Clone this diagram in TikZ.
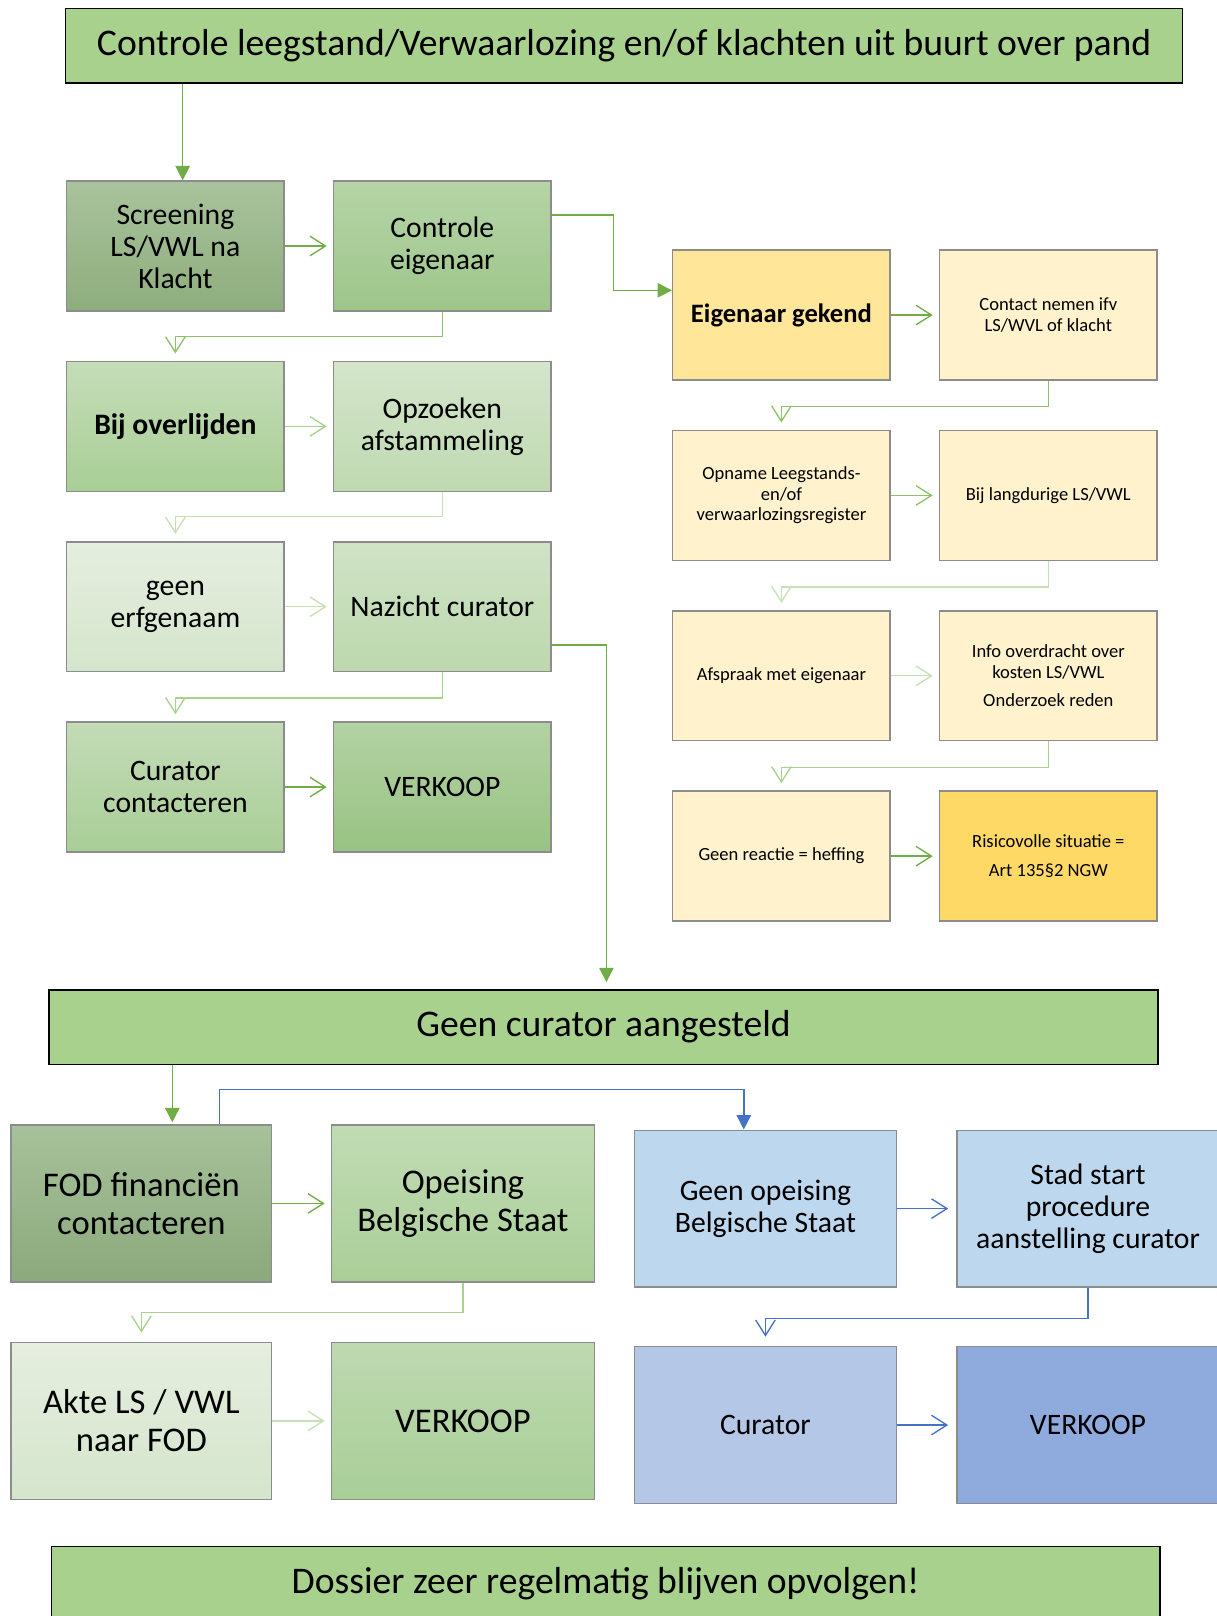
\documentclass[tikz,border=0pt]{standalone}
\usepackage{fontspec}
\setmainfont{Carlito}
\usetikzlibrary{arrows.meta}
\definecolor{hdr}{HTML}{A9D18E}
\definecolor{gA}{HTML}{70AD47}
\definecolor{gB}{HTML}{8CC26A}
\definecolor{gC}{HTML}{A9D18E}
\definecolor{gD}{HTML}{C5E0B4}
\definecolor{bl}{HTML}{4472C4}
\definecolor{brd}{HTML}{8C8C8C}
\definecolor{ylA}{HTML}{FFE699}
\definecolor{ylB}{HTML}{FFF2CC}
\definecolor{ylC}{HTML}{FFD966}
\definecolor{buA}{HTML}{BDD7EE}
\definecolor{buB}{HTML}{B4C7E7}
\definecolor{buC}{HTML}{8FAADC}
\definecolor{c1t}{HTML}{A9C39C}\definecolor{c1b}{HTML}{8EAD7D}
\definecolor{c2t}{HTML}{B6D4A7}\definecolor{c2b}{HTML}{9DC58A}
\definecolor{c3t}{HTML}{C5DDB8}\definecolor{c3b}{HTML}{A8CE95}
\definecolor{c4t}{HTML}{D4E5CB}\definecolor{c4b}{HTML}{BFD9B1}
\definecolor{c5t}{HTML}{E5EEDF}\definecolor{c5b}{HTML}{D5E5CC}
\definecolor{c6t}{HTML}{D0E3C6}\definecolor{c6b}{HTML}{BCD8AE}
\definecolor{c7t}{HTML}{C3DBB6}\definecolor{c7b}{HTML}{A9CE97}
\definecolor{c8t}{HTML}{B3D2A3}\definecolor{c8b}{HTML}{98C283}
\definecolor{c9t}{HTML}{A7C19A}\definecolor{c9b}{HTML}{8BA97C}
\definecolor{cat}{HTML}{C1DCB4}\definecolor{cab}{HTML}{AACE98}
\definecolor{cbt}{HTML}{BED9B1}\definecolor{cbb}{HTML}{A9CE97}
\begin{document}
\begin{tikzpicture}[x=1pt,y=-1pt,
  box/.style={draw=brd, line width=1.4pt, inner sep=2pt, align=center, text=black, anchor=north west},
  sbox/.style={box, minimum width=211pt, minimum height=126pt},
  lbox/.style={box, minimum width=253pt, minimum height=152pt},
  gbox/.style 2 args={top color=#1, bottom color=#2},
  hbox/.style={draw=black, line width=1.2pt, fill=hdr, anchor=north west, minimum height=72pt, font=\fontsize{36.5}{42}\selectfont},
  fL/.style={font=\fontsize{28.8}{31}\selectfont},
  fX/.style={font=\fontsize{33.6}{37}\selectfont},
  fS/.style={font=\fontsize{18}{20}\selectfont},
  fA/.style={line width=1.4pt, draw=#1, -{Triangle[length=14pt,width=14pt,fill=#1]}},
  oA/.style={line width=1.3pt, draw=#1, -{Straight Barb[length=15pt,width=19pt]}},
]
\useasboundingbox (0,0) rectangle (1180,1568);

% headers
\node[hbox, minimum width=1084pt] (top) at (63,8) {Controle leegstand/Verwaarlozing en/of klachten uit buurt over pand};
\node[hbox, minimum width=1076pt] (gc) at (47,960) {Geen curator aangesteld};
\node[hbox, minimum width=1076pt] (dos) at (49,1500) {Dossier zeer regelmatig blijven opvolgen!};

% left column
\node[sbox, fL, gbox={c1t}{c1b}] (scr) at (64,175) {Screening\\LS/VWL na\\Klacht};
\node[sbox, fL, gbox={c2t}{c2b}] (ce) at (323,175) {Controle\\eigenaar};
\node[sbox, fL, gbox={c3t}{c3b}] (bo) at (64,350) {\textbf{Bij overlijden}};
\node[sbox, fL, gbox={c4t}{c4b}] (opz) at (323,350) {Opzoeken\\afstammeling};
\node[sbox, fL, gbox={c5t}{c5b}] (ge) at (64,525) {geen\\erfgenaam};
\node[sbox, fL, gbox={c6t}{c6b}] (nc) at (323,525) {Nazicht curator};
\node[sbox, fL, gbox={c7t}{c7b}] (cc) at (64,700) {Curator\\contacteren};
\node[sbox, fL, gbox={c8t}{c8b}] (vk1) at (323,700) {VERKOOP};

% right column
\node[sbox, fill=ylA, font=\fontsize{25.8}{30}\selectfont] (eg) at (652,242) {\textbf{Eigenaar gekend}};
\node[sbox, fS, fill=ylB] (cn) at (911,242) {Contact nemen ifv\\LS/WVL of klacht};
\node[sbox, fS, fill=ylB] (opn) at (652,417) {Opname Leegstands-\\en/of\\verwaarlozingsregister};
\node[sbox, fS, fill=ylB] (bl) at (911,417) {Bij langdurige LS/VWL};
\node[sbox, fS, fill=ylB] (afs) at (652,592) {Afspraak met eigenaar};
\node[sbox, fS, fill=ylB] (inf) at (911,592) {Info overdracht over\\kosten LS/VWL\\[7pt]Onderzoek reden};
\node[sbox, fS, fill=ylB] (gr) at (652,767) {Geen reactie = heffing};
\node[sbox, fS, fill=ylC] (ris) at (911,767) {Risicovolle situatie =\\[8pt]Art 135§2 NGW};

% bottom part
\node[lbox, fX, gbox={c9t}{c9b}] (fod) at (10,1091) {FOD financiën\\contacteren};
\node[lbox, fX, gbox={cat}{cab}, minimum width=255pt] (ope) at (321,1091) {Opeising\\Belgische Staat};
\node[lbox, fX, gbox={c5t}{c5b}] (akt) at (10,1302) {Akte LS / VWL\\naar FOD};
\node[lbox, fX, gbox={cbt}{cbb}, minimum width=255pt] (vk2) at (321,1302) {VERKOOP};
\node[lbox, fL, fill=buA, minimum width=254pt] (gop) at (615,1096) {Geen opeising\\Belgische Staat};
\node[lbox, fL, fill=buA, minimum width=254pt] (sta) at (928,1096) {Stad start\\procedure\\aanstelling curator};
\node[lbox, fL, fill=buB, minimum width=254pt] (cur) at (615,1306) {Curator};
\node[lbox, fL, fill=buC, minimum width=254pt] (vk3) at (928,1306) {VERKOOP};

% connectors, upper part
\draw[fA=gA] ([xshift=7pt]scr.north |- top.south) -- ([xshift=7pt]scr.north);
\draw[oA=gA, shorten >=6pt] (scr) -- (ce);
\draw[fA=gA] ([yshift=30pt]ce.east) -- ++(60,0) |- ([yshift=24pt]eg.west);
\draw[oA=gB, shorten >=7pt] (ce.south) -- ++(0,24) -| (bo.north);
\draw[oA=gC, shorten >=6pt] (bo) -- (opz);
\draw[oA=gD, shorten >=7pt] (opz.south) -- ++(0,24) -| (ge.north);
\draw[oA=gD, shorten >=6pt] (ge) -- (nc);
\draw[oA=gC, shorten >=7pt] (nc.south) -- ++(0,25) -| (cc.north);
\draw[oA=gA, shorten >=6pt] (cc) -- (vk1);
\draw[fA=gA, shorten >=7pt] ([yshift=-37pt]nc.east) -- ++(53,0) coordinate (k1) -- (k1 |- gc.north);

\draw[oA=gA, shorten >=6pt] (eg) -- (cn);
\draw[oA=gB, shorten >=7pt] (cn.south) -- ++(0,25) -| (opn.north);
\draw[oA=gB, shorten >=6pt] (opn) -- (bl);
\draw[oA=gD, shorten >=7pt] (bl.south) -- ++(0,25) -| (afs.north);
\draw[oA=gD, shorten >=6pt] (afs) -- (inf);
\draw[oA=gC, shorten >=7pt] (inf.south) -- ++(0,25) -| (gr.north);
\draw[oA=gA, shorten >=6pt] (gr) -- (ris);

% connectors, lower part
\draw[fA=gA, shorten >=2pt] ([xshift=30pt]fod.north |- gc.south) -- ([xshift=30pt]fod.north);
\draw[oA=gA, shorten >=6pt] (fod) -- (ope);
\draw[fA=bl] ([xshift=76pt]fod.north) -- ++(0,-34) -| ([xshift=-21pt]gop.north);
\draw[oA=bl, shorten >=8pt] (gop) -- (sta);
\draw[oA=bl, shorten >=9pt] (sta.south) -- ++(0,30) -| (cur.north);
\draw[oA=bl, shorten >=8pt] (cur) -- (vk3);
\draw[oA=gC, shorten >=9pt] (ope.south) -- ++(0,29) -| (akt.north);
\draw[oA=gD, shorten >=6pt] (akt) -- (vk2);
\end{tikzpicture}
\end{document}
